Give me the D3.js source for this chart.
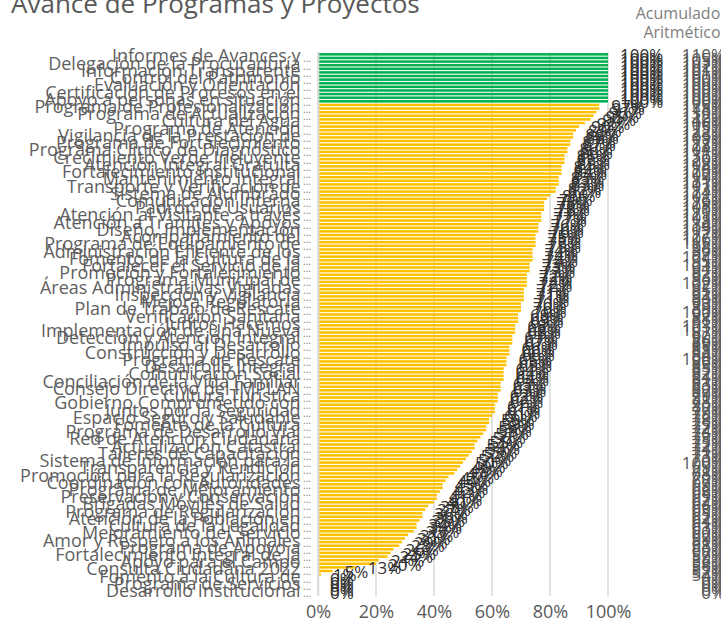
<!DOCTYPE html>
<html>
<head>
<meta charset="UTF-8" />
<title>Avance de Programas y Proyectos</title>
<script src="https://cdn.jsdelivr.net/npm/d3@7"></script>
<style>
  body { margin: 0; background: #fff; }
  svg { display: block; font-family: "Open Sans", sans-serif; }
</style>
</head>
<body>
<svg width="721" height="624"></svg>
<script>
// avance (%) por programa, de arriba hacia abajo
const avance = [
  100,100,100,100,100,100,100,100,100,100,100,100,100,100,
  97,97,96,95,94,92,90,89,88,88,
  87,87,86,86,85,85,85,84,84,84,
  83,83,83,82,82,80,79,78,78,78,
  77,77,77,76,76,76,75,75,75,75,
  74,74,74,74,73,73,73,72,72,72,
  72,71,71,71,71,70,70,70,69,69,
  69,68,68,68,67,67,67,66,66,66,
  65,65,65,64,64,64,64,63,63,63,
  62,62,62,61,61,61,60,59,59,58,
  58,57,56,55,54,54,53,52,51,50,
  49,48,47,45,44,43,43,42,41,41,
  40,38,37,36,36,35,34,34,33,31,
  30,29,28,26,25,24,21,20,13,5,
  1,0,0,0,0,0
];

// columna "Acumulado Aritmético" (%)
const acumulado = [
  110,105,103,102,101,101,100,100,100,100,100,100,100,100,
  125,118,130,112,140,106,115,122,133,109,
  117,128,104,111,136,120,108,114,126,102,
  119,131,107,113,124,101,116,129,105,110,
  121,103,118,134,109,112,127,106,115,
  98,96,97,104,95,101,94,97,93,96,
  102,92,95,91,94,90,93,89,100,92,
  88,91,103,101,87,90,86,89,85,88,
  84,100,86,83,85,82,84,81,83,80,
  82,79,81,78,80,77,79,76,78,75,
  77,74,76,73,75,72,74,71,73,70,
  100,69,71,68,70,67,69,66,68,65,
  67,64,66,63,65,62,64,61,63,60,
  62,59,61,58,60,57,59,56,58,55,
  57,54,
  0,0,0,0,0
];

// etiquetas visibles (una cada dos barras)
const programas = [
  "Informes de Avances y", "Delegación de la Procuraduría", "Información Transparente",
  "Control del Patrimonio", "Evaluación y Orientación", "Certificación de Procesos en el",
  "Apoyo a personas en situación", "Programa de Profesionalización", "Programa de Actualización",
  "Cultura del Agua", "Programa de Atención", "Vigilancia de la Prestación de",
  "Programa de Fortalecimiento", "Programa Clínico de Diagnóstico", "Crecimiento Verde Incluyente",
  "Atención Integral Gratuita", "Fortalecimiento Institucional", "Mantenimiento Integral",
  "Transporte y Verificación de", "Sistema de Alumbrado", "Comunicación Interna",
  "Padrón de Usuarios", "Atención al Visitante a través", "Atención a Trámites y Apoyos",
  "Diseño, Implementación", "Acompañamiento del", "Programa de Equipamiento de",
  "Administración Eficiente de los", "Fomento de la Cultura de la", "Fortalecer el Servicio de la",
  "Promoción y Fortalecimiento", "Programa Municipal de", "Áreas Administrativas Vigiladas",
  "Inspección y Vigilancia", "Mejora Regulatoria", "Plan de Trabajo de Rescate",
  "Verificación Sanitaria", "Juntos Hacemos", "Implementación de Una Nueva",
  "Detección y Atención Integral", "Impulso al Desarrollo", "Construcción y Desarrollo",
  "Programa de Rescate", "Desarrollo Integral", "Comunicación Social",
  "Conciliación de la Vida Familiar", "Consejo Directivo del IMPLAN", "Cultura Turística",
  "Gobierno Comprometido con", "Juntos por la Seguridad", "Espacio Seguro y Saludable",
  "Fomento de la Cultura", "Programa de Desarrollo Vial", "Red de Atención Ciudadana",
  "Actualización Catastral", "Talleres de Capacitación", "Sistema de Información para la",
  "Transparencia y Rendición", "Promoción para la Regularización", "Coordinación con Autoridades",
  "Programa de Mejoramiento", "Preservación y Conservación", "Brigadas Móviles de Salud",
  "Programa de Regularización", "Atención de la Población en", "Cultura de la Legalidad",
  "Mejoramiento del Servicio", "Amor y Respeto a los Animales", "Programa de Apoyo a",
  "Fortalecimiento Integral de la", "Apoyo para el Campo", "Consulta Ciudadana 2022",
  "Fomento a la Cultura de", "Programa de Servicios", "Desarrollo Institucional"
];

const ticksX = [0, 0.2, 0.4, 0.6, 0.8, 1];

const svg = d3.select("svg");

const x = d3.scaleLinear().domain([0, 1]).range([318, 608]);
const y = d3.scaleBand().domain(d3.range(avance.length)).range([52, 595]).padding(0.3);

// gridlines
svg.append("g")
  .selectAll("line")
  .data(ticksX)
  .enter()
  .append("line")
  .attr("x1", (d) => x(d))
  .attr("x2", (d) => x(d))
  .attr("y1", 52)
  .attr("y2", 596)
  .attr("stroke", "#d9d9d9")
  .attr("stroke-width", 1.5);

// x axis labels
const xAxis = svg.append("g")
  .attr("transform", "translate(0,596)")
  .call(d3.axisBottom(x).tickValues(ticksX).tickFormat(d3.format(".0%")).tickSize(0).tickPadding(9));
xAxis.select(".domain").remove();
xAxis.selectAll("text")
  .attr("fill", "#595959")
  .style("font-size", "18px")
  .style("font-family", "Open Sans");

// bars
svg.append("g")
  .selectAll("rect")
  .data(avance)
  .enter()
  .append("rect")
  .attr("x", x(0))
  .attr("y", (d, i) => y(i))
  .attr("height", y.bandwidth())
  .attr("width", (d) => x(d / 100) - x(0))
  .attr("fill", (d) => (d >= 100 ? "#00B050" : "#FFC000"));

// category axis (every second bar labelled)
const yAxis = svg.append("g")
  .attr("transform", "translate(318,0)")
  .call(
    d3.axisLeft(y)
      .tickValues(d3.range(0, avance.length, 2))
      .tickSize(0)
      .tickPadding(7)
      .tickFormat((i) => programas[i / 2])
  );
yAxis.select(".domain").attr("stroke", "#d9d9d9").attr("stroke-width", 1.5);
yAxis.selectAll("text")
  .attr("fill", "#5f5f5f")
  .attr("dy", "0.45em")
  .style("font-size", "18px")
  .style("font-family", "Open Sans")
  .each(function () {
    d3.select(this)
      .append("tspan")
      .text(" ...")
      .style("font-size", "10px")
      .attr("fill", "#7f7f7f");
  });

// data labels
svg.append("g")
  .selectAll("text")
  .data(avance)
  .enter()
  .append("text")
  .attr("x", (d) => x(d / 100) + 12)
  .attr("y", (d, i) => y(i) + y.bandwidth() / 2)
  .attr("dy", "0.4em")
  .attr("fill", "#333333")
  .style("font-size", "17px")
  .text((d) => d + "%");

// acumulado column
svg.append("g")
  .selectAll("text")
  .data(acumulado)
  .enter()
  .append("text")
  .attr("x", 725)
  .attr("y", (d, i) => y(i) + y.bandwidth() / 2)
  .attr("dy", "0.4em")
  .attr("text-anchor", "end")
  .attr("fill", "#595959")
  .style("font-size", "17px")
  .text((d) => d + "%");

// title
svg.append("text")
  .attr("x", 11)
  .attr("y", 13)
  .attr("fill", "#595959")
  .style("font-size", "26px")
  .text("Avance de Programas y Proyectos");

svg.append("text")
  .attr("x", 678)
  .attr("y", 19)
  .attr("text-anchor", "middle")
  .attr("fill", "#7f7f7f")
  .style("font-size", "16px")
  .text("Acumulado");
svg.append("text")
  .attr("x", 682)
  .attr("y", 38)
  .attr("text-anchor", "middle")
  .attr("fill", "#7f7f7f")
  .style("font-size", "16px")
  .text("Aritmético");
</script>
</body>
</html>
